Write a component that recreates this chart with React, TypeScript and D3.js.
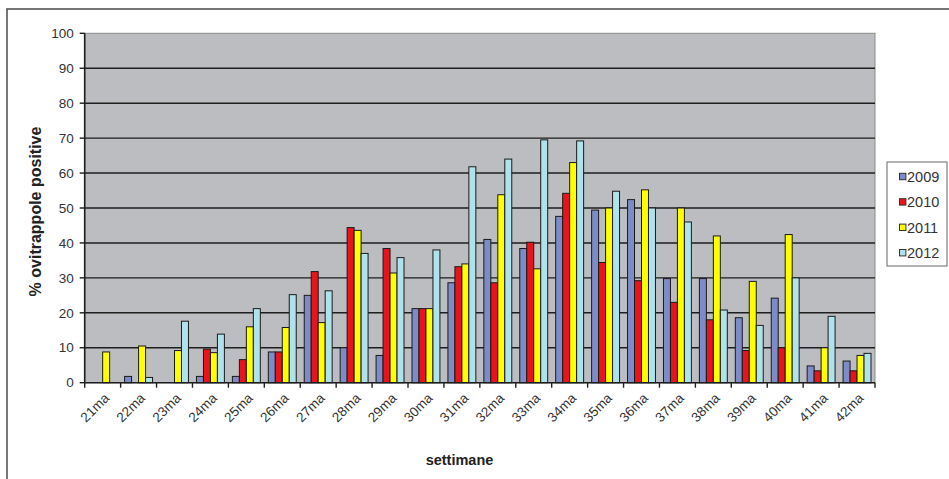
import React from "react";
import * as d3 from "d3";

// Weekly share of positive ovitraps, by year
const weeks = [
  "21ma", "22ma", "23ma", "24ma", "25ma", "26ma", "27ma", "28ma", "29ma", "30ma", "31ma",
  "32ma", "33ma", "34ma", "35ma", "36ma", "37ma", "38ma", "39ma", "40ma", "41ma", "42ma",
];
const years = ["2009", "2010", "2011", "2012"];
const v2009 = [0, 1.8, 0, 1.8, 1.8, 8.8, 25.0, 10.0, 7.8, 21.2, 28.6, 41.0, 38.4, 47.6, 49.4, 52.4, 29.8, 29.8, 18.6, 24.2, 4.8, 6.2];
const v2010 = [0, 0, 0, 9.6, 6.6, 8.8, 31.8, 44.4, 38.4, 21.2, 33.2, 28.6, 40.2, 54.2, 34.4, 29.2, 23.0, 18.0, 9.2, 10.0, 3.4, 3.4];
const v2011 = [8.8, 10.5, 9.2, 8.6, 16.0, 15.8, 17.2, 43.6, 31.4, 21.2, 34.0, 53.8, 32.6, 63.0, 50.0, 55.2, 50.0, 42.0, 29.0, 42.4, 10.0, 7.8];
const v2012 = [0, 1.5, 17.6, 13.9, 21.2, 25.2, 26.3, 37.0, 35.8, 38.0, 61.8, 64.0, 69.5, 69.2, 54.8, 50.0, 46.0, 20.8, 16.4, 30.0, 19.0, 8.4];
const yTicks = [0, 10, 20, 30, 40, 50, 60, 70, 80, 90, 100];

const seriesValues = [v2009, v2010, v2011, v2012];
const colors = ["#7d8cc6", "#e8141c", "#ffff00", "#b0e2ec"];

export default function App() {
  const left = 84.7;
  const right = 875;
  const top = 33.3;
  const bottom = 382.7;

  const x0 = d3.scaleBand<string>().domain(weeks).range([left, right]).padding(0);
  const bw = x0.bandwidth();
  const x1 = d3.scaleBand<string>().domain(years).range([4, bw - 4]).padding(0);
  const y = d3.scaleLinear().domain([0, 100]).range([bottom, top]);

  const font = "'Liberation Sans', Arial, sans-serif";

  return (
    <svg
      width={949}
      height={479}
      style={{ position: "absolute", left: 0, top: 0, background: "#fff" }}
      fontFamily={font}
    >
      <rect x={7} y={9} width={1000} height={600} fill="#fff" stroke="#555" strokeWidth={1.6} />

      {/* plot area */}
      <rect x={left} y={top} width={right - left} height={bottom - top} fill="#bcbdc0" stroke="#8a8a8a" strokeWidth={1} />

      {/* horizontal grid */}
      {yTicks.slice(1, -1).map((t) => (
        <line key={"g" + t} x1={left} x2={right} y1={y(t)} y2={y(t)} stroke="#1e1e1e" strokeWidth={1.4} />
      ))}

      {/* bars */}
      {weeks.map((w, i) => (
        <g key={w} transform={`translate(${x0(w)},0)`}>
          {years.map((yr, j) => {
            const v = seriesValues[j][i];
            if (v <= 0) return null;
            return (
              <rect
                key={yr}
                x={x1(yr)}
                y={y(v)}
                width={x1.bandwidth()}
                height={bottom - y(v)}
                fill={colors[j]}
                stroke="#1a1a1a"
                strokeWidth={1}
              />
            );
          })}
        </g>
      ))}

      {/* y axis */}
      <line x1={left} x2={left} y1={top} y2={bottom} stroke="#1e1e1e" strokeWidth={1.6} />
      {yTicks.map((t) => (
        <g key={"t" + t}>
          <line x1={left - 5} x2={left} y1={y(t)} y2={y(t)} stroke="#1e1e1e" strokeWidth={1.4} />
          <text x={left - 11} y={y(t)} dy="0.35em" textAnchor="end" fontSize={13.5} fill="#333">
            {t}
          </text>
        </g>
      ))}

      {/* x axis */}
      <line x1={left} x2={right} y1={bottom} y2={bottom} stroke="#1e1e1e" strokeWidth={1.6} />
      {[...weeks.map((w) => x0(w) as number), right].map((px, i) => (
        <line key={"xt" + i} x1={px} x2={px} y1={bottom} y2={bottom + 5} stroke="#1e1e1e" strokeWidth={1.4} />
      ))}
      {weeks.map((w) => {
        const cx = (x0(w) as number) + bw / 2 + 4;
        const cy = bottom + 13;
        return (
          <text
            key={"xl" + w}
            x={cx}
            y={cy}
            textAnchor="end"
            fontSize={13.5}
            fill="#333"
            transform={`rotate(-45 ${cx} ${cy})`}
            dy="0.35em"
          >
            {w}
          </text>
        );
      })}

      {/* axis titles */}
      <text x={459.5} y={465} textAnchor="middle" fontSize={14.5} fontWeight="bold" fill="#222">
        settimane
      </text>
      <text
        x={0}
        y={0}
        transform="translate(41,211.5) rotate(-90)"
        textAnchor="middle"
        fontSize={16}
        fontWeight="bold"
        fill="#222"
      >
        % ovitrappole positive
      </text>

      {/* legend */}
      <rect x={887} y={162} width={60} height={104} fill="#fff" stroke="#666" strokeWidth={1} />
      {years.map((yr, j) => {
        const ly = 176.5 + j * 25.4;
        return (
          <g key={"lg" + yr}>
            <rect x={899.5} y={ly - 3.2} width={6.4} height={6.4} fill={colors[j]} stroke="#333" strokeWidth={1} />
            <text x={907} y={ly} dy="0.36em" fontSize={14.5} fill="#333">
              {yr}
            </text>
          </g>
        );
      })}
    </svg>
  );
}
